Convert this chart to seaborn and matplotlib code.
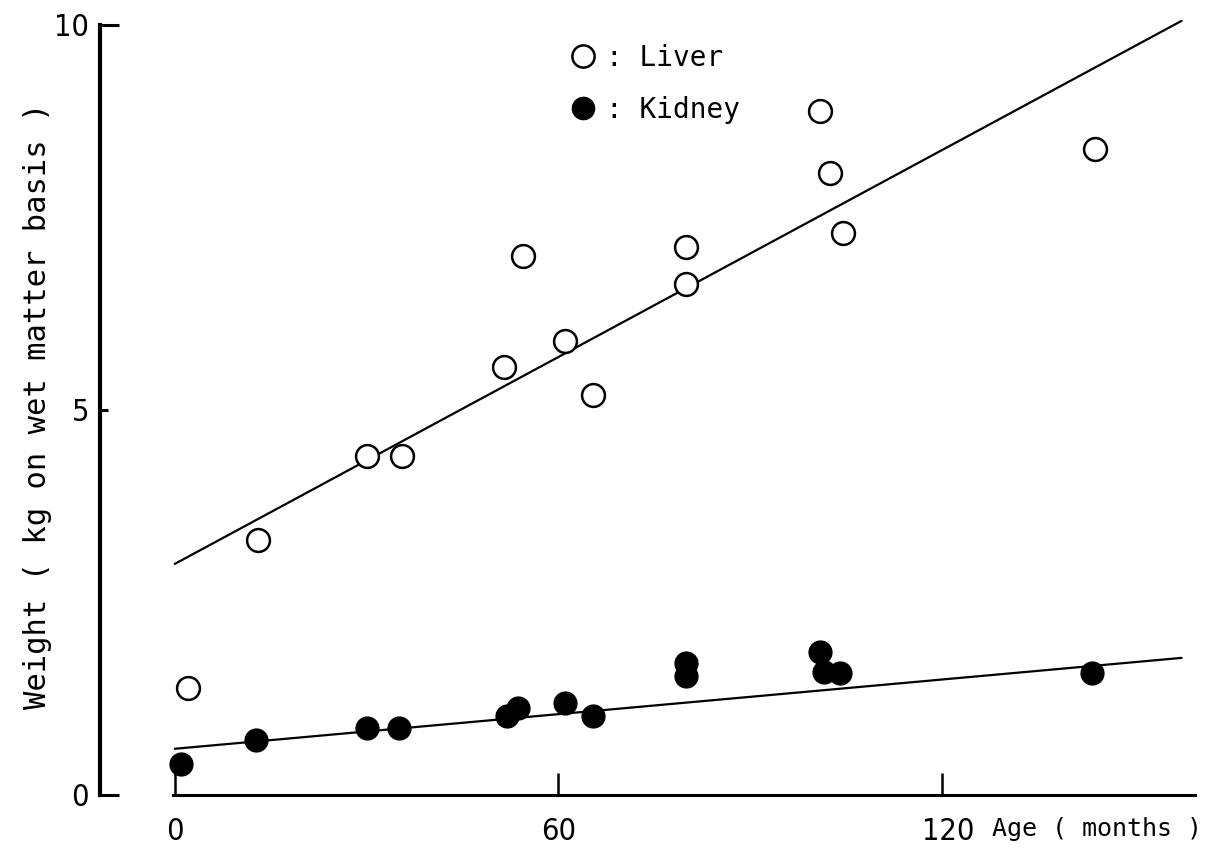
import matplotlib
matplotlib.use("Agg")
import matplotlib.pyplot as plt
import matplotlib.transforms as mtransforms
import seaborn as sns
from matplotlib.lines import Line2D
from matplotlib.font_manager import FontProperties

# ---- data ----
liver_age = [2, 13, 30, 35.5, 51.5, 54.5, 61, 65.5, 80, 80, 101, 102.5, 104.5, 144]
liver_weight = [1.39, 3.31, 4.40, 4.40, 5.55, 7.00, 5.90, 5.19, 7.12, 6.64, 8.88, 8.08, 7.29, 8.39]
kidney_age = [1, 12.7, 30, 35, 52, 53.7, 61, 65.5, 80, 80, 101, 101.5, 104, 143.5]
kidney_weight = [0.40, 0.71, 0.87, 0.87, 1.03, 1.13, 1.19, 1.03, 1.71, 1.55, 1.86, 1.60, 1.58, 1.58]
fit_age = [0, 157.5]
liver_fit = [3.0, 10.05]
kidney_fit = [0.60, 1.78]
x_ticks = [0, 60, 120]
y_ticks = [0, 5, 10]
legend_labels = [": Liver", ": Kidney"]
x_label = "Age ( months )"
y_label = "Weight ( kg on wet matter basis )"

sns.set_style("ticks")
plt.rcParams['font.family'] = ['DejaVu Sans']
plt.rcParams['font.stretch'] = 'condensed'
plt.rcParams['text.color'] = 'black'
plt.rcParams['xtick.color'] = 'black'
plt.rcParams['ytick.color'] = 'black'
plt.rcParams['axes.labelcolor'] = 'black'
plt.rcParams['axes.edgecolor'] = 'black'
mono = ['DejaVu Sans Mono', 'DejaVu Sans']

W, H = 1224, 849
fig = plt.figure(figsize=(W / 100, H / 100), dpi=100)
fig.patch.set_facecolor('white')
ax = fig.add_axes([100 / W, (H - 795) / H, 1095 / W, 778 / H])
ax.set_facecolor('white')

sns.lineplot(x=fit_age, y=liver_fit, color='black', linewidth=1.6, ax=ax)
sns.lineplot(x=fit_age, y=kidney_fit, color='black', linewidth=1.6, ax=ax)
sns.scatterplot(x=liver_age, y=liver_weight, marker='o', s=270, color='white',
                edgecolor='black', linewidth=1.8, ax=ax, zorder=3)
sns.scatterplot(x=kidney_age, y=kidney_weight, marker='o', s=270, color='black',
                edgecolor='black', linewidth=1.0, ax=ax, zorder=3)

ax.set_xlim(-11.7, 159.6)
ax.set_ylim(0, 10.1)

sns.despine(ax=ax)
ax.spines['left'].set_linewidth(3.0)
ax.spines['bottom'].set_linewidth(2.2)
ax.spines['left'].set_bounds(0, 10)
ax.spines['bottom'].set_bounds(-0.3, 159.6)

ax.set_xticks(x_ticks)
ax.set_yticks(y_ticks)
ax.set_xticklabels([str(t) for t in x_ticks])
ax.set_yticklabels([str(t) for t in y_ticks])
ax.tick_params(axis='x', direction='in', length=16, width=1.8, pad=16, labelsize=22)
ax.tick_params(axis='y', direction='in', length=14, width=2.2, pad=8, labelsize=22)
ylens = [14, 6, 14]
for t, L in zip(ax.yaxis.get_major_ticks(), ylens):
    t.tick1line.set_markersize(L)

# the "120" label sits a little right of its tick in the reference
lbl = ax.get_xticklabels()[2]
lbl.set_transform(lbl.get_transform() + mtransforms.ScaledTranslation(6 / 100, 0, fig.dpi_scale_trans))

ax.set_ylabel(y_label, fontfamily=mono, fontstretch='normal', fontsize=22, labelpad=1)
ax.set_xlabel(x_label, fontfamily=mono, fontstretch='normal', fontsize=18)
ax.xaxis.set_label_coords(1.006, -(817 - 795) / 778)
ax.xaxis.label.set_horizontalalignment('right')
ax.xaxis.label.set_verticalalignment('top')

handles = [
    Line2D([], [], linestyle='none', marker='o', markersize=16, markerfacecolor='white',
           markeredgecolor='black', markeredgewidth=1.8),
    Line2D([], [], linestyle='none', marker='o', markersize=16, markerfacecolor='black',
           markeredgecolor='black'),
]
ax.legend(handles, legend_labels, loc='upper left', bbox_to_anchor=(555 / W, 1 - 30 / H),
          bbox_transform=fig.transFigure, frameon=False,
          prop=FontProperties(family=mono, size=20), handlelength=1.0,
          handletextpad=0.35, labelspacing=0.85, borderpad=0)

fig.savefig('out.png', dpi=100, facecolor='white')
